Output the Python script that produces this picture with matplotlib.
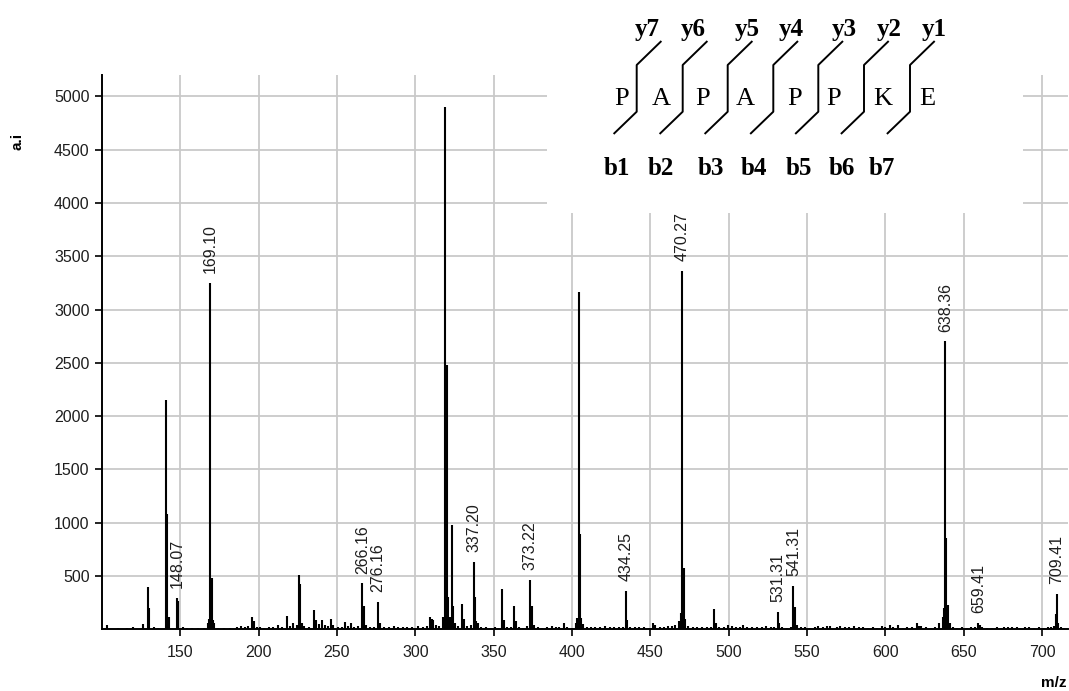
import matplotlib
matplotlib.use("Agg")
import matplotlib.pyplot as plt
from matplotlib.patches import Rectangle
from matplotlib.lines import Line2D

# ---------------- data ----------------
peak_mz = [
    102.9, 110.0, 116.0, 119.9, 126.3, 129.4, 130.3, 133.5, 135.5, 140.7, 141.8, 142.7,
    147.6, 148.5, 151.5, 154.5, 157.5, 161.0, 165.0, 167.8, 168.5, 169.1, 170.3, 170.9,
    171.6, 174.0, 178.0, 182.0, 185.9, 188.5, 191.0, 193.5, 195.5, 196.9, 199.0, 201.0,
    203.5, 206.5, 209.0, 212.5, 215.0, 217.8, 220.0, 222.0, 224.5, 225.9, 226.5, 227.5,
    229.0, 232.0, 235.5, 236.5, 238.5, 240.2, 242.5, 244.0, 246.1, 247.5, 250.5, 253.0,
    255.0, 257.0, 258.7, 261.0, 263.5, 266.16, 267.1, 268.5, 271.0, 273.5, 276.16, 277.5,
    280.0, 283.0, 286.3, 289.0, 292.0, 295.0, 298.0, 301.9, 305.0, 307.5, 309.3, 310.4,
    311.4, 313.0, 315.0, 317.4, 318.5, 319.2, 320.2, 321.0, 322.0, 323.6, 324.3, 325.5,
    327.0, 330.0, 331.0, 333.0, 335.5, 337.2, 338.1, 339.0, 340.2, 342.0, 345.0, 348.0,
    351.0, 353.0, 355.5, 356.3, 358.5, 361.0, 363.2, 364.0, 366.0, 369.0, 371.0, 373.22,
    374.2, 375.5, 378.0, 381.0, 384.0, 387.0, 390.0, 392.0, 394.9, 397.0, 400.0, 402.5,
    403.5, 404.5, 405.1, 406.0, 407.0, 409.5, 412.0, 415.0, 418.0, 421.0, 424.0, 427.0,
    430.0, 432.5, 434.25, 435.4, 437.0, 440.0, 443.0, 446.0, 449.0, 452.0, 453.0, 456.0,
    459.0, 461.5, 463.7, 466.0, 468.5, 469.5, 470.27, 471.5, 472.4, 474.0, 477.0, 480.0,
    483.0, 486.0, 488.5, 490.9, 491.8, 494.0, 497.0, 499.8, 502.0, 505.0, 507.0, 509.4,
    512.0, 515.0, 518.0, 521.0, 524.0, 527.0, 529.0, 531.31, 532.2, 534.0, 537.0, 539.5,
    541.31, 542.2, 543.5, 546.0, 549.0, 552.0, 555.0, 557.0, 560.0, 562.6, 565.0, 569.0,
    571.0, 574.0, 577.0, 580.0, 583.0, 586.0, 589.0, 592.0, 595.0, 597.8, 600.0, 603.0,
    605.0, 608.4, 611.0, 614.0, 617.0, 620.0, 621.5, 623.0, 626.0, 629.0, 632.0, 634.5,
    636.5, 637.5, 638.36, 638.8, 640.3, 641.2, 643.0, 646.0, 649.0, 652.0, 655.0, 657.5,
    659.41, 660.2, 662.0, 665.0, 668.0, 671.0, 674.0, 676.0, 678.0, 681.0, 684.0, 686.0,
    689.0, 692.0, 695.0, 698.0, 701.0, 704.0, 706.0, 707.7, 708.9, 709.41, 710.3, 712.0,
    714.0,
]
peak_int = [
    40, 12, 10, 18, 47, 395, 200, 20, 15, 2150, 1085, 115,
    295, 265, 20, 15, 15, 10, 12, 60, 95, 3250, 478, 90,
    55, 15, 12, 15, 25, 30, 22, 30, 113, 75, 20, 25,
    15, 20, 18, 40, 25, 128, 30, 55, 40, 510, 425, 60,
    30, 20, 185, 90, 50, 90, 40, 30, 100, 40, 20, 25,
    70, 30, 55, 20, 30, 432, 215, 40, 20, 25, 255, 60,
    20, 25, 35, 20, 18, 20, 18, 35, 20, 30, 118, 100,
    85, 40, 30, 115, 120, 4900, 2480, 300, 120, 980, 220, 60,
    30, 240, 95, 30, 40, 630, 300, 80, 60, 25, 20, 15,
    20, 15, 375, 90, 20, 20, 217, 80, 20, 15, 30, 462,
    220, 40, 20, 15, 25, 35, 20, 25, 56, 20, 15, 60,
    110, 3165, 894, 110, 50, 25, 20, 25, 20, 30, 20, 25,
    20, 25, 360, 90, 25, 20, 25, 20, 15, 60, 40, 25,
    20, 30, 30, 45, 80, 150, 3360, 572, 100, 30, 20, 25,
    20, 20, 25, 187, 60, 25, 20, 45, 30, 25, 20, 45,
    20, 25, 20, 20, 30, 25, 20, 163, 60, 20, 15, 25,
    406, 210, 40, 20, 20, 15, 20, 30, 20, 35, 30, 25,
    35, 20, 25, 30, 25, 20, 15, 20, 15, 35, 20, 40,
    25, 40, 15, 20, 25, 55, 35, 30, 20, 15, 25, 55,
    120, 200, 2700, 853, 228, 60, 25, 15, 20, 15, 20, 25,
    60, 40, 20, 15, 15, 20, 15, 20, 20, 25, 20, 15,
    25, 20, 15, 20, 15, 20, 25, 30, 140, 335, 60, 25,
    15,
]
label_mz = [148.07, 169.10, 266.16, 276.16, 337.20, 373.22, 434.25,
            470.27, 531.31, 541.31, 638.36, 659.41, 709.41]

x_ticks = [150, 200, 250, 300, 350, 400, 450, 500, 550, 600, 650, 700]
y_ticks = [500, 1000, 1500, 2000, 2500, 3000, 3500, 4000, 4500, 5000]

sequence = ["P", "A", "P", "A", "P", "P", "K", "E"]
y_ions = ["y7", "y6", "y5", "y4", "y3", "y2", "y1"]
b_ions = ["b1", "b2", "b3", "b4", "b5", "b6", "b7"]

# ---------------- figure ----------------
W, H = 1069, 691
fig = plt.figure(figsize=(W / 100, H / 100), dpi=100)
fig.patch.set_facecolor("white")


def fx(x):
    return x / W


def fy(y):
    return 1 - y / H


left, right, bottom, top = 102, 1068, 629.3, 75
ax = fig.add_axes([fx(left), fy(bottom), (right - left) / W, (bottom - top) / H])

ax.vlines(peak_mz, 0, peak_int, colors="black", linewidth=1.5, zorder=3)

ax.set_xlim(100, 716.6)
ax.set_ylim(0, 5200)
ax.set_xticks(x_ticks)
ax.set_yticks(y_ticks)

tick_font = "Liberation Sans"
for lab in ax.get_xticklabels() + ax.get_yticklabels():
    lab.set_fontfamily(tick_font)
ax.tick_params(axis="both", direction="out", length=5, width=1.2,
               color="black", labelsize=11.5, labelcolor="#1e1e1e")
ax.tick_params(axis="x", pad=6)
ax.tick_params(axis="y", pad=4)

for s in ["top", "right"]:
    ax.spines[s].set_visible(False)
for s in ["left", "bottom"]:
    ax.spines[s].set_linewidth(1.4)
    ax.spines[s].set_color("black")

ax.set_axisbelow(True)
ax.grid(True, color="#c9c9c9", linewidth=1.3)

# peak labels
for m in label_mz:
    h = max(i for p, i in zip(peak_mz, peak_int) if abs(p - m) <= 1.0)
    ax.annotate(f"{m:.2f}", xy=(m, h), xytext=(0, 7), textcoords="offset points",
                rotation=90, ha="center", va="bottom", fontsize=11.5,
                family=tick_font, color="#1e1e1e", zorder=4)

# axis labels
fig.text(fx(17), fy(141), "a.i", rotation=90, ha="center", va="center",
         fontsize=11, fontweight="bold", family=tick_font)
fig.text(fx(1067), fy(683), "m/z", ha="right", va="center",
         fontsize=11, fontweight="bold", family=tick_font)

# white panel behind fragmentation diagram
fig.add_artist(Rectangle((fx(547), fy(213)), (1023 - 547) / W, 213 / H,
                         transform=fig.transFigure, facecolor="white",
                         edgecolor="none", zorder=5))

serif = "Liberation Serif"
# sequence letters
letter_x = [622, 661, 703, 745, 795, 834, 883, 927]
for ch, x in zip(sequence, letter_x):
    fig.text(fx(x), fy(105), ch, ha="center", va="baseline", fontsize=19,
             family=serif, zorder=6)

# y ions
y_x = [647, 693, 747, 791, 844, 889, 934]
for t, x in zip(y_ions, y_x):
    fig.text(fx(x), fy(36), t, ha="center", va="baseline", fontsize=18,
             family=serif, fontweight="bold", zorder=6)

# b ions
b_x = [617, 661, 711, 754, 799, 842, 882]
for t, x in zip(b_ions, b_x):
    fig.text(fx(x), fy(175), t, ha="center", va="baseline", fontsize=18,
             family=serif, fontweight="bold", zorder=6)

# cleavage brackets
bend_x = [636.7, 682.7, 727.7, 773.3, 818.3, 864, 910]
for bx in bend_x:
    xs = [bx - 22.4, bx, bx, bx + 24]
    ys = [133.3, 111.7, 65, 41.7]
    fig.add_artist(Line2D([fx(v) for v in xs], [fy(v) for v in ys],
                          transform=fig.transFigure, color="black",
                          linewidth=1.4, zorder=6))

fig.savefig("out.png", dpi=100, facecolor="white")
